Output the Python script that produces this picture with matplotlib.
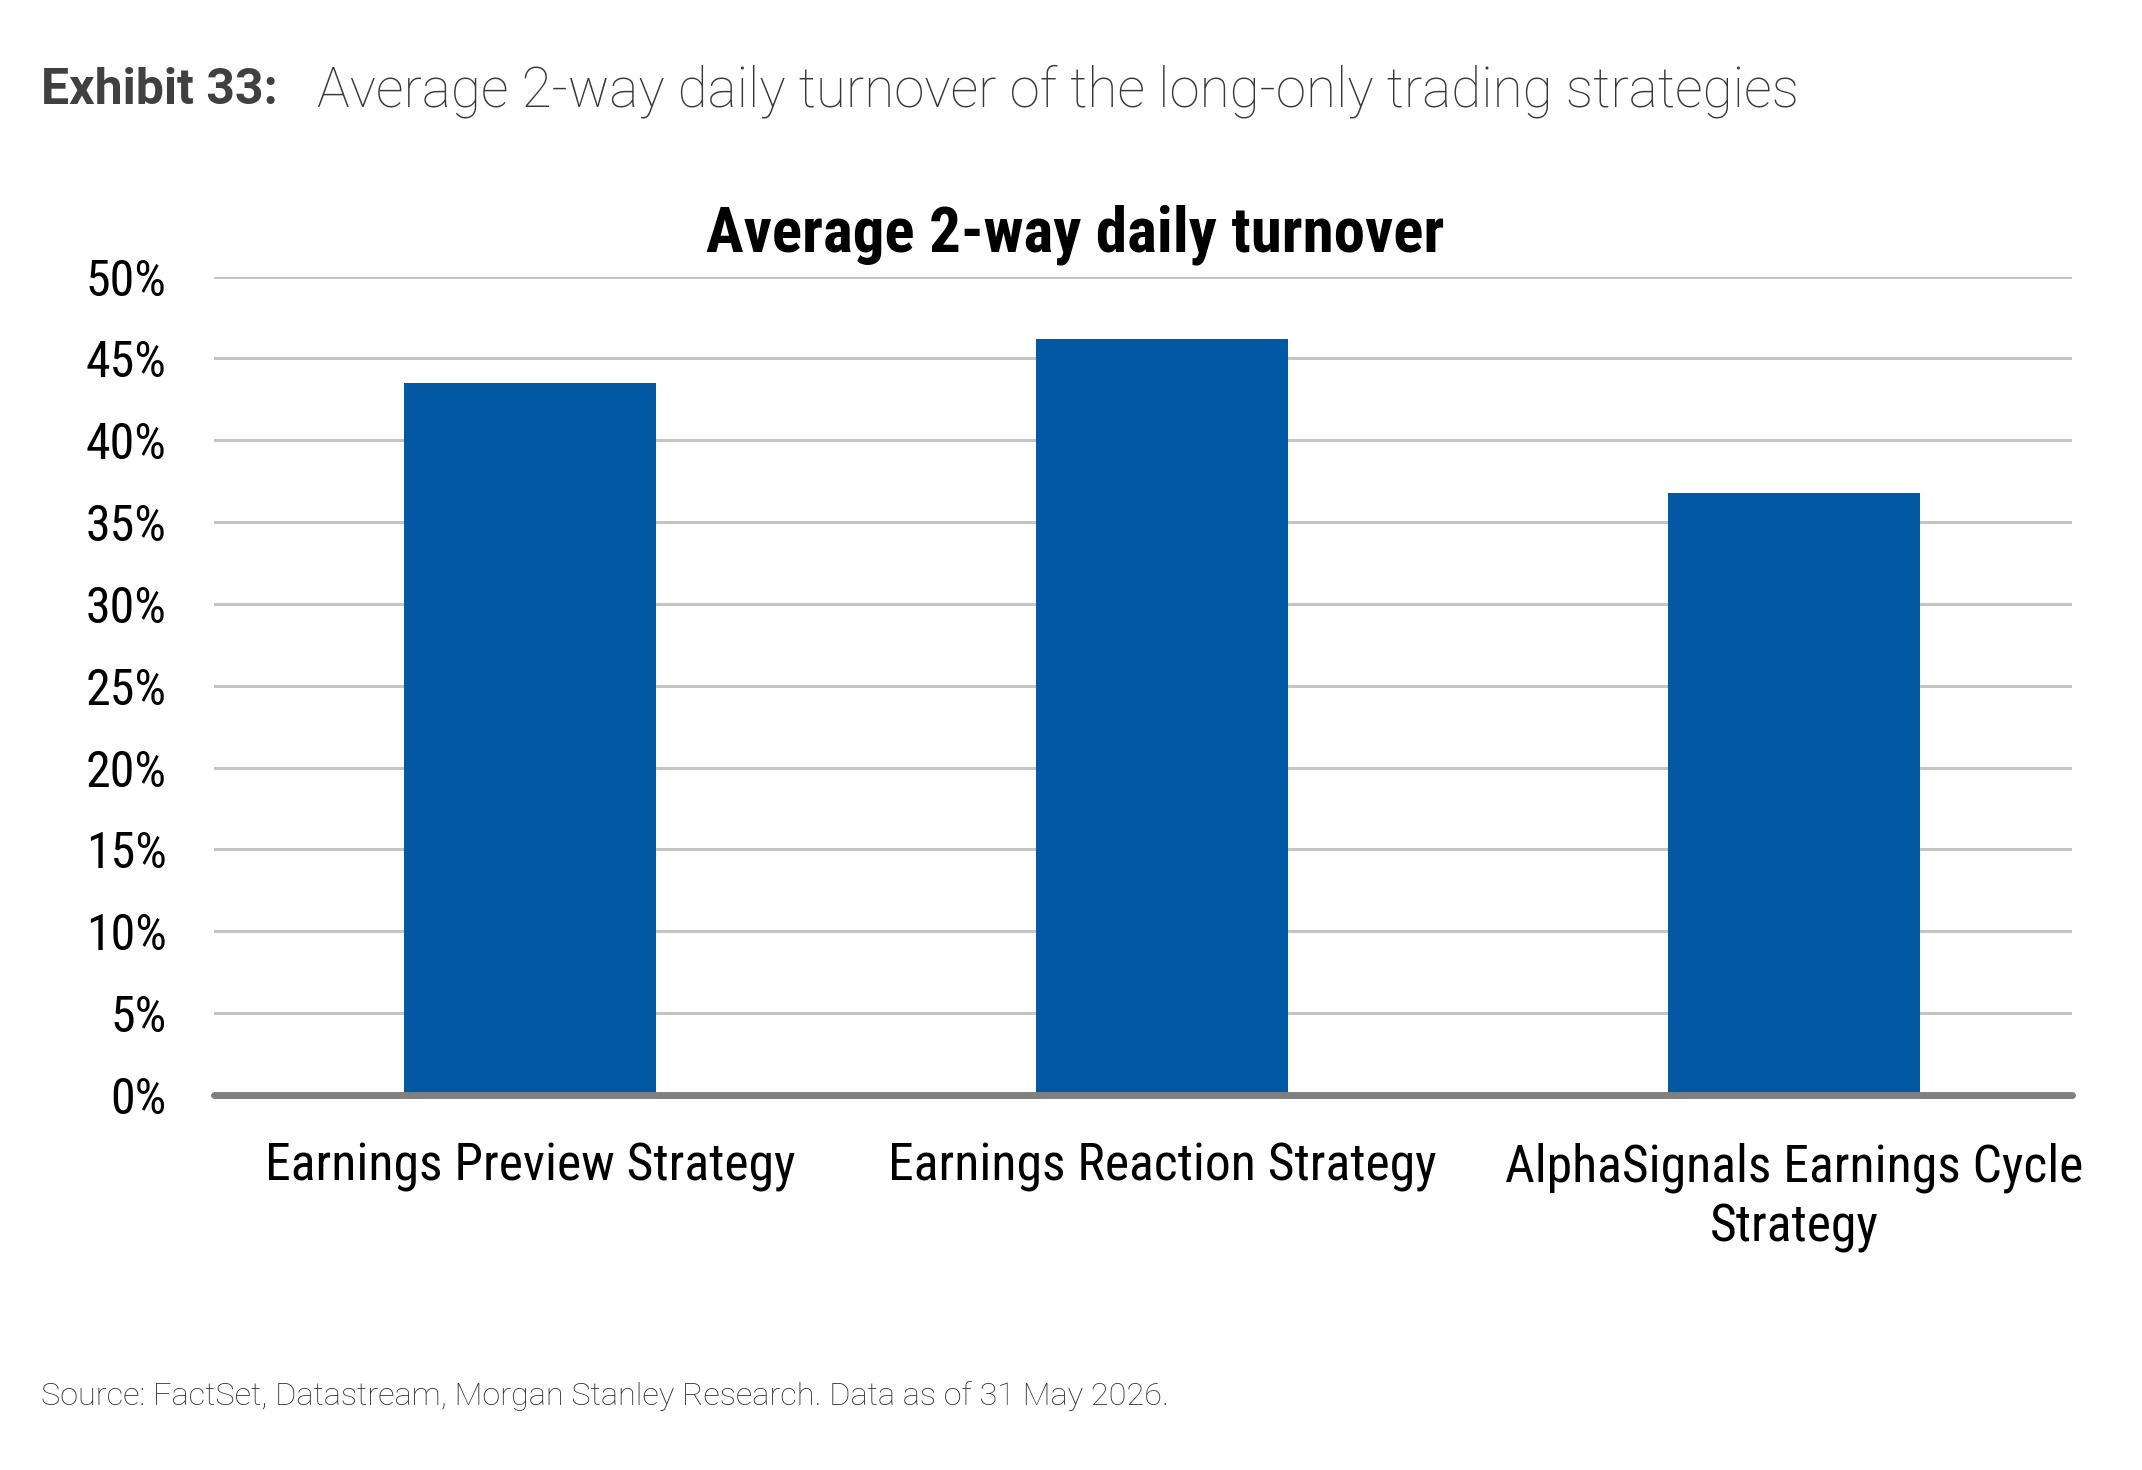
import matplotlib
matplotlib.use("Agg")
import matplotlib.pyplot as plt
from matplotlib.ticker import FuncFormatter, MultipleLocator

categories = ["Earnings Preview Strategy", "Earnings Reaction Strategy",
              "AlphaSignals Earnings Cycle\nStrategy"]
values = [0.435, 0.462, 0.368]

header_bold = "Exhibit 33:"
header_text = "Average 2-way daily turnover of the long-only trading strategies"
chart_title = "Average 2-way daily turnover"
source_text = "Source: FactSet, Datastream, Morgan Stanley Research. Data as of 31 May 2026."

W, H = 2142, 1470
fig = plt.figure(figsize=(W / 100, H / 100), dpi=100)
cond = ["Roboto Condensed", "DejaVu Sans"]
rob = ["Roboto", "DejaVu Sans"]

ax = fig.add_axes([214 / W, 1 - 1095 / H, (2072 - 214) / W, (1095 - 276.5) / H])
x = range(len(categories))
ax.bar(x, values, width=0.398, color="#0059A2", zorder=3)
ax.set_xlim(-0.5, len(categories) - 0.56)
ax.set_ylim(0, 0.5)
ax.yaxis.set_major_locator(MultipleLocator(0.05))
ax.yaxis.set_major_formatter(FuncFormatter(lambda v, p: f"{v*100:.0f}%"))
ax.grid(axis="y", color="#C4C4C4", linewidth=2.2, zorder=0)
for s in ["top", "right", "left"]:
    ax.spines[s].set_visible(False)
ax.spines["bottom"].set_color("#808080")
ax.spines["bottom"].set_linewidth(5)
ax.spines["bottom"].set_capstyle("round")
ax.spines["bottom"].set_zorder(4)
ax.tick_params(axis="both", length=0)
ax.tick_params(axis="y", pad=34)
ax.tick_params(axis="x", pad=34)
ax.set_xticks(list(x))
ax.set_xticklabels(categories, linespacing=1.25)
for lab in ax.get_yticklabels():
    lab.set_fontfamily(cond)
    lab.set_fontsize(36)
    lab.set_color("#000000")
for lab in ax.get_xticklabels():
    lab.set_fontfamily(cond)
    lab.set_fontsize(37.2)
    lab.set_color("#000000")

fig.text((706 + 1444) / 2 / W, 1 - 235 / H, chart_title, ha="center", va="center",
         fontsize=45.4, fontweight="bold", family=cond, color="#000000")

fig.text(41 / W, 1 - 91 / H, header_bold, ha="left", va="center",
         fontsize=36, fontweight="bold", family=rob, color="#404040")
fig.text(317 / W, 1 - 91 / H, header_text, ha="left", va="center",
         fontsize=39.4, fontweight="light", family=rob, color="#383838")
fig.text(41 / W, 1 - 1396 / H, source_text, ha="left", va="center",
         fontsize=23.4, fontweight="light", family=rob, color="#2e2e2e")

fig.savefig("out.png", dpi=100, facecolor="white")
